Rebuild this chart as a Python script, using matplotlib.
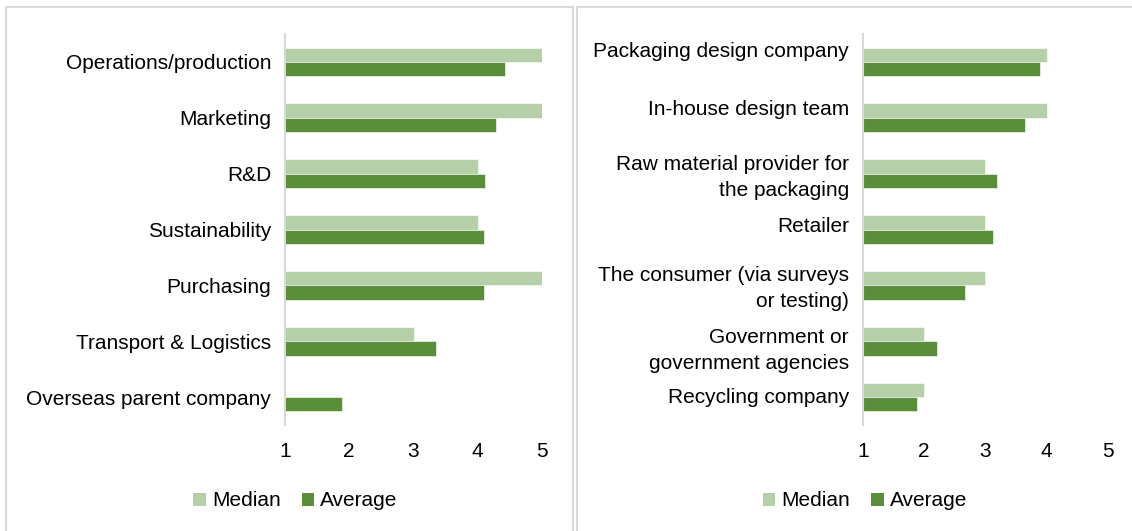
import matplotlib
matplotlib.use("Agg")
import matplotlib.pyplot as plt
from matplotlib.patches import Rectangle, Patch
from matplotlib.transforms import ScaledTranslation

plt.rcParams['font.family'] = ['Liberation Sans', 'DejaVu Sans']

# Left chart: internal departments
left_categories = ["Operations/production", "Marketing", "R&D", "Sustainability",
                   "Purchasing", "Transport & Logistics", "Overseas parent company"]
left_median = [5, 5, 4, 4, 5, 3, 1]
left_average = [4.43, 4.28, 4.11, 4.09, 4.09, 3.35, 1.89]

# Right chart: external parties
right_categories = ["Packaging design company", "In-house design team",
                    "Raw material provider for\nthe packaging", "Retailer",
                    "The consumer (via surveys\nor testing)",
                    "Government or\ngovernment agencies", "Recycling company"]
right_median = [4, 4, 3, 3, 3, 2, 2]
right_average = [3.89, 3.64, 3.19, 3.13, 2.67, 2.21, 1.88]

x_ticks = [1, 2, 3, 4, 5]
series_names = ["Median", "Average"]

LIGHT = "#b5cfa8"
DARK = "#5b8e3b"
GRID = "#d9d9d9"
FS = 15

W, H = 1132, 531
fig = plt.figure(figsize=(W / 100, H / 100), dpi=100)

# panel frames
for x0, x1 in [(6, 573), (577, 1140)]:
    fig.patches.append(Rectangle((x0 / W, -0.05), (x1 - x0) / W, (H - 7) / H + 0.05,
                                 transform=fig.transFigure, fill=False,
                                 edgecolor=GRID, linewidth=1.5))


def draw_panel(rect, cats, med, avg, label_shift_pt=None):
    ax = fig.add_axes(rect)
    n = len(cats)
    ys = list(range(n))
    h = 0.258
    ax.barh([y - h / 2 for y in ys], med, height=h, left=0, color=LIGHT,
            edgecolor="white", linewidth=0.4)
    ax.barh([y + h / 2 for y in ys], avg, height=h, left=0, color=DARK,
            edgecolor="white", linewidth=0.4)
    ax.set_xlim(1, 5)
    ax.set_ylim(n - 0.5, -0.5)
    ax.set_xticks(x_ticks)
    ax.set_xticklabels([str(t) for t in x_ticks], fontsize=FS)
    ax.set_yticks(ys)
    ax.set_yticklabels(cats, fontsize=FS, linespacing=1.5)
    ax.tick_params(axis="both", length=0)
    ax.tick_params(axis="x", pad=12)
    ax.tick_params(axis="y", pad=10)
    for s in ["top", "right", "bottom"]:
        ax.spines[s].set_visible(False)
    ax.spines["left"].set_color(GRID)
    ax.spines["left"].set_linewidth(1.5)
    if label_shift_pt:
        for lab, dy in zip(ax.get_yticklabels(), label_shift_pt):
            lab.set_transform(lab.get_transform() +
                              ScaledTranslation(0, -dy / 72, fig.dpi_scale_trans))
    return ax


top_px, bot_px = 34, 425
draw_panel([285 / W, 1 - bot_px / H, 257 / W, (bot_px - top_px) / H],
           left_categories, left_median, left_average)
draw_panel([862.7 / W, 1 - bot_px / H, 245.3 / W, (bot_px - top_px) / H],
           right_categories, right_median, right_average,
           label_shift_pt=[-9, -7.6, -1.5, -3.5, -2, 2.5, -1.4])

handles = [Patch(facecolor=LIGHT, label=series_names[0]),
           Patch(facecolor=DARK, label=series_names[1])]
for cx in [295.5 / W, 865 / W]:
    fig.legend(handles=handles, loc="center", bbox_to_anchor=(cx, 1 - 501 / H),
               ncol=2, frameon=False, fontsize=FS, handlelength=0.6,
               handleheight=0.6, handletextpad=0.3, columnspacing=1.0,
               borderpad=0, borderaxespad=0)

fig.savefig("out.png", dpi=100, facecolor="white")
